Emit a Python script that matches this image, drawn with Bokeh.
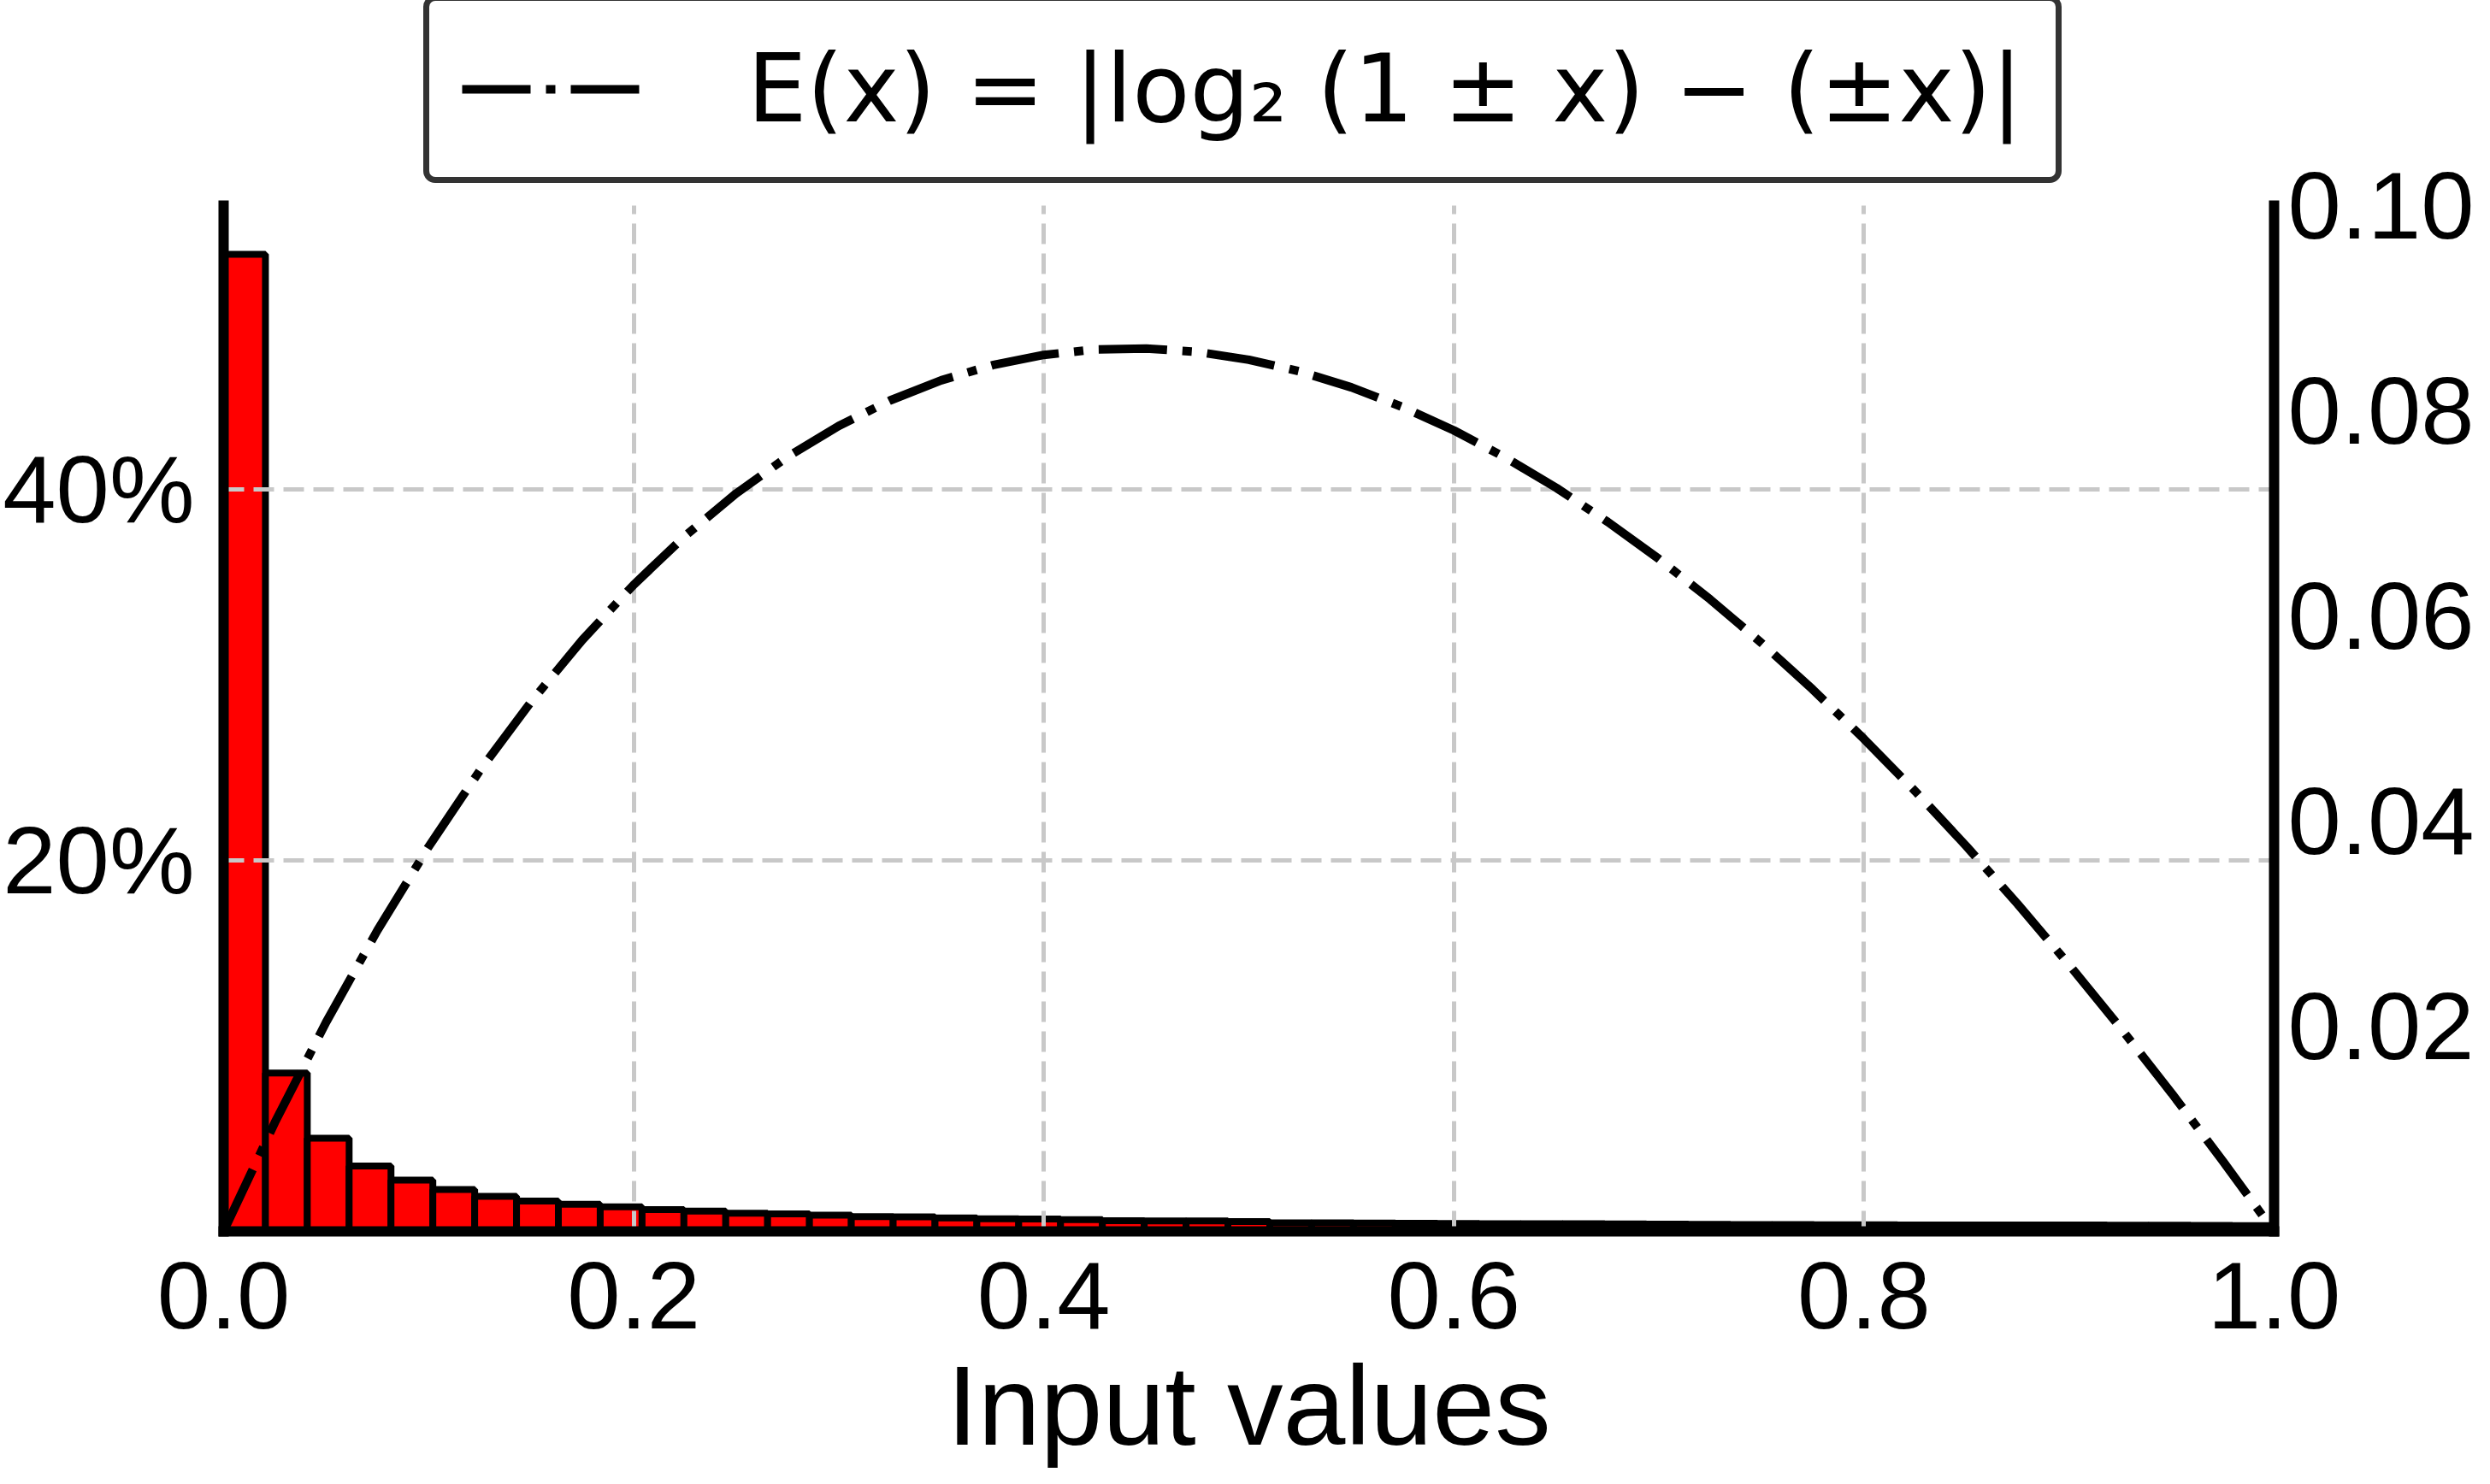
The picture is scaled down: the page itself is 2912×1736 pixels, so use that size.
from bokeh.plotting import figure
from bokeh.models import (Range1d, LinearAxis, FixedTicker, NumeralTickFormatter,
                          Legend, LegendItem, ColumnDataSource)
from bokeh.embed import file_html
from bokeh.resources import INLINE

# ---------------- data ----------------
n_bins = 49
hist_fraction = [
    0.5267, 0.0853, 0.0502, 0.0353, 0.0276, 0.0226, 0.0189, 0.0164, 0.0146, 0.0132,
    0.0118, 0.0110, 0.0098, 0.0095, 0.0087, 0.0080, 0.0078, 0.0072, 0.0068, 0.0067,
    0.0063, 0.0058, 0.0057, 0.0056, 0.0053, 0.0046, 0.0046, 0.0045, 0.0044, 0.0043,
    0.0042, 0.0041, 0.0041, 0.0040, 0.0039, 0.0038, 0.0037, 0.0037, 0.0036, 0.0036,
    0.0035, 0.0035, 0.0034, 0.0034, 0.0034, 0.0033, 0.0033, 0.0032, 0.0031,
]
curve_x = [0.0, 0.025, 0.05, 0.075, 0.1, 0.125, 0.15, 0.175, 0.2, 0.225, 0.25,
           0.275, 0.3, 0.325, 0.35, 0.375, 0.4, 0.425, 0.45, 0.475, 0.5,
           0.525, 0.55, 0.575, 0.6, 0.625, 0.65, 0.675, 0.7, 0.725, 0.75,
           0.775, 0.8, 0.825, 0.85, 0.875, 0.9, 0.925, 0.95, 0.975, 1.0]
curve_err = [0.0, 0.01062, 0.02039, 0.02934, 0.03750, 0.04493, 0.05163, 0.05766,
             0.06303, 0.06778, 0.07193, 0.07550, 0.07851, 0.08099, 0.08296, 0.08443,
             0.08543, 0.08596, 0.08605, 0.08572, 0.08496, 0.08381, 0.08227, 0.08035,
             0.07807, 0.07544, 0.07247, 0.06916, 0.06554, 0.06160, 0.05736, 0.05282,
             0.04800, 0.04290, 0.03753, 0.03189, 0.02600, 0.01986, 0.01347, 0.00685, 0.0]
x_ticks = [0.0, 0.2, 0.4, 0.6, 0.8, 1.0]
x_grid_ticks = [0.2, 0.4, 0.6, 0.8]
left_ticks = [0.2, 0.4]
right_ticks = [0.02, 0.04, 0.06, 0.08, 0.10]
left_max = 0.553      # top of the percentage axis
right_max = 0.10      # top of the error axis
legend_label = "E(x) = |log\u2082 (1 \u00b1 x) \u2212 (\u00b1x)|"
x_label = "Input values"

lefts = [i / n_bins for i in range(n_bins)]
rights = [(i + 1) / n_bins for i in range(n_bins)]

# ---------------- layout constants (pixels) ----------------
W, H = 2896, 1720
BORDER_LEFT, BORDER_RIGHT, BORDER_BOTTOM = 261, 236, 279
FRAME_H = H - BORDER_BOTTOM          # frame spans from canvas top to x axis
DATA_TOP = 240                        # pixel row where the axes end
ext = FRAME_H / (FRAME_H - DATA_TOP)  # frame also holds the legend strip
TICK_FONT = "Liberation Sans"
GRID_STYLE = dict(line_color="#c8c8c8", line_width=5, line_dash="24 11")

p = figure(width=W, height=H, output_backend="svg", toolbar_location=None,
           title=None,
           x_range=Range1d(0, 1), y_range=Range1d(0, left_max * ext),
           min_border_left=BORDER_LEFT, min_border_right=BORDER_RIGHT,
           min_border_top=0, min_border_bottom=BORDER_BOTTOM,
           outline_line_color=None, background_fill_color="white",
           border_fill_color="white")
p.extra_y_ranges = {"err": Range1d(0, right_max * ext)}

hist_src = ColumnDataSource(dict(left=lefts, right=rights, top=hist_fraction))
bars = p.quad(left="left", right="right", bottom=0, top="top", source=hist_src,
              fill_color="#ff0000", line_color="black", line_width=8)
bars.level = "image"

curve_src = ColumnDataSource(dict(x=curve_x, y=curve_err))
line_r = p.line("x", "y", source=curve_src, y_range_name="err",
                line_color="black", line_width=10, line_dash="80 18 11 18")


def style_axis(ax, standoff):
    ax.axis_line_color = "black"
    ax.axis_line_width = 12
    ax.axis_line_cap = "square"
    ax.major_tick_in = 0
    ax.major_tick_out = 0
    ax.minor_tick_in = 0
    ax.minor_tick_out = 0
    ax.major_label_text_font = TICK_FONT
    ax.major_label_text_font_size = "112px"
    ax.major_label_text_color = "black"
    ax.major_label_standoff = standoff


xa = p.xaxis[0]
xa.ticker = FixedTicker(ticks=x_ticks)
xa.formatter = NumeralTickFormatter(format="0.0")
xa.bounds = (0, 1)
style_axis(xa, 36)
xa.axis_label = x_label
xa.axis_label_text_font = TICK_FONT
xa.axis_label_text_font_size = "131px"
xa.axis_label_text_font_style = "normal"
xa.axis_label_text_color = "black"
xa.axis_label_standoff = 14

ya = p.yaxis[0]
ya.ticker = FixedTicker(ticks=left_ticks)
ya.formatter = NumeralTickFormatter(format="0%")
ya.bounds = (0, left_max)
style_axis(ya, 34)

ra = LinearAxis(y_range_name="err", ticker=FixedTicker(ticks=right_ticks),
                formatter=NumeralTickFormatter(format="0.00"),
                bounds=(0, right_max))
style_axis(ra, 16)
p.add_layout(ra, "right")

xg, yg = p.xgrid[0], p.ygrid[0]
xg.ticker = FixedTicker(ticks=x_grid_ticks)
yg.ticker = FixedTicker(ticks=left_ticks)
for g in (xg, yg):
    g.grid_line_color = GRID_STYLE["line_color"]
    g.grid_line_width = GRID_STYLE["line_width"]
    g.grid_line_dash = GRID_STYLE["line_dash"]
    g.level = "underlay"
try:
    xg.cross_bounds = (0, left_max)
    yg.cross_bounds = (0, 1)
except Exception:
    xg.visible = False
    vg = p.segment(x0=x_grid_ticks, y0=[0] * len(x_grid_ticks),
                   x1=x_grid_ticks, y1=[left_max] * len(x_grid_ticks), **GRID_STYLE)
    vg.level = "underlay"

legend = Legend(items=[LegendItem(label=legend_label, renderers=[line_r])],
                location=(234, FRAME_H - 215), orientation="vertical",
                label_text_font="DejaVu Sans", label_text_font_size="110px",
                label_text_color="black",
                glyph_width=213, glyph_height=130, label_height=130,
                label_standoff=121, padding=38, margin=0, spacing=0,
                border_line_color="#333333", border_line_width=7,
                border_line_alpha=1.0,
                background_fill_color="white", background_fill_alpha=1.0)
try:
    legend.border_radius = 14
except Exception:
    pass
p.add_layout(legend)

open("out.html", "w").write(file_html(p, INLINE))
